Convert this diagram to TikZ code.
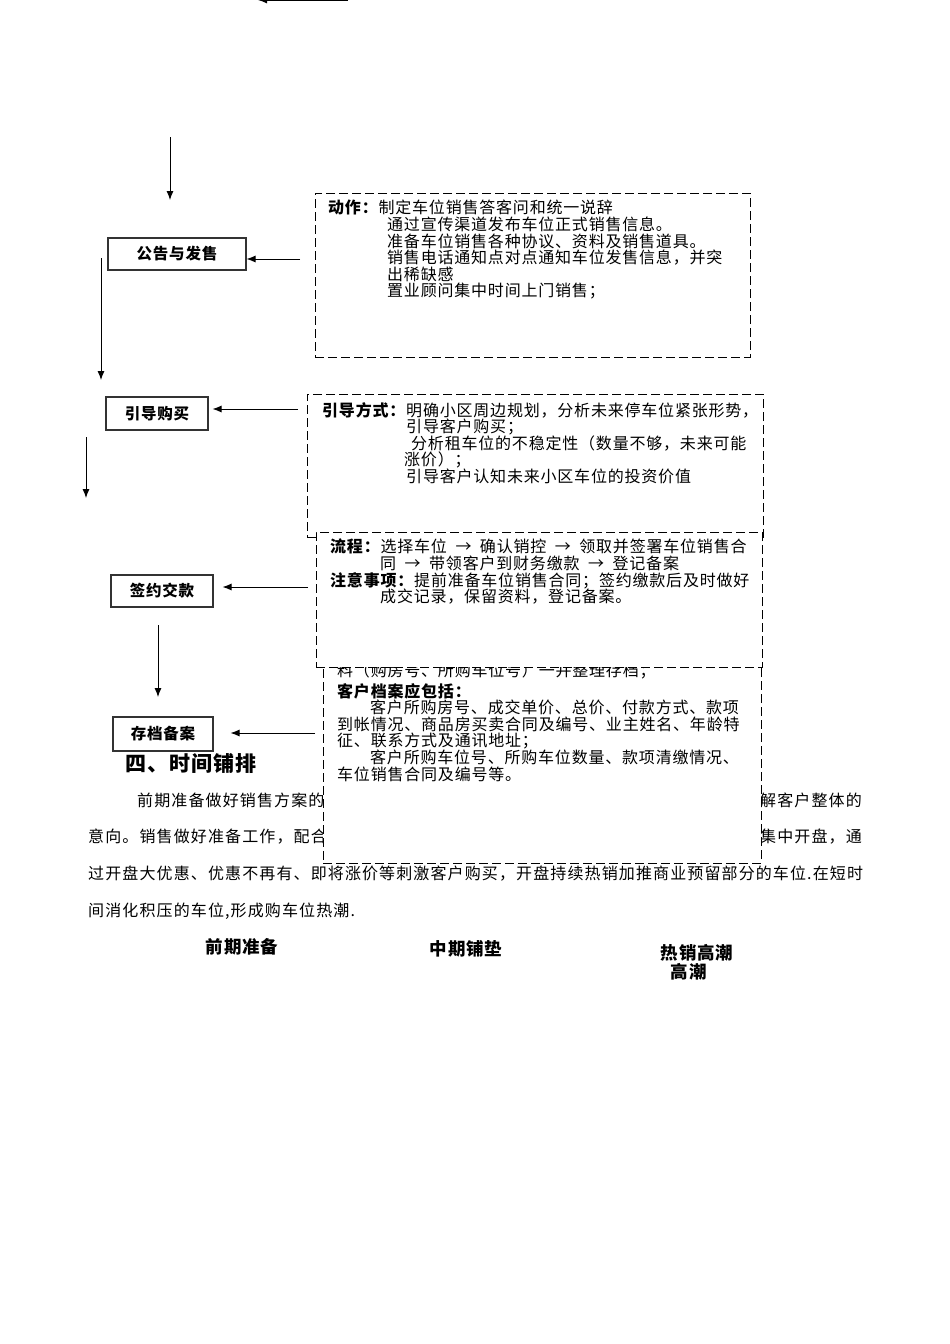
\documentclass[tikz,border=0pt]{standalone}
\usepackage{fontspec}
\usetikzlibrary{arrows.meta}
\newfontfamily\cjk[LetterSpace=5]{Noto Sans CJK SC}
\newfontfamily\cjkbody[LetterSpace=7]{Noto Sans CJK SC}
\newcommand{\flowarrow}{\hspace{8.5pt}→\hspace{8.5pt}}

\begin{document}
\begin{tikzpicture}[x=1pt, y=-1pt,
    stepbox/.style={draw=black!80, line width=1.1pt, inner sep=0, font=\cjk\bfseries\fontsize{15.5}{18}\selectfont},
    notebox/.style={draw, dash pattern=on 9pt off 4pt, line width=1pt, fill=white, inner sep=0},
    notetext/.style={anchor=north west, inner sep=0, align=left, font=\cjk\fontsize{16}{16.6}\selectfont},
    bodytext/.style={anchor=west, inner sep=0, font=\cjkbody\fontsize{16}{18}\selectfont},
    phase/.style={inner sep=0, font=\cjk\bfseries\fontsize{17.5}{19}\selectfont},
    arr/.style={-{Latex[length=9pt,width=7pt]}, line width=0.9pt}]
  \useasboundingbox (0,0) rectangle (950,1344);

  \coordinate (top1) at (348,0);
  \coordinate (top2) at (258,0);
  \draw[arr] (top1) -- (top2);

  \node[stepbox, minimum width=138, minimum height=32] (gongao) at (177,254) {公告与发售};
  \node[stepbox, minimum width=102, minimum height=33] (yindao) at (157,413.5) {引导购买};
  \node[stepbox, minimum width=102, minimum height=32] (qianyue) at (162,591) {签约交款};
  \node[stepbox, minimum width=100, minimum height=34] (cundang) at (163,734) {存档备案};

  \coordinate (d1a) at (170,137);
  \coordinate (d1b) at (170,200);
  \coordinate (d2a) at (101,258);
  \coordinate (d2b) at (101,380);
  \coordinate (d3a) at (86,437);
  \coordinate (d3b) at (86,498);
  \coordinate (d4a) at (158,625);
  \coordinate (d4b) at (158,697);
  \draw[arr] (d1a) -- (d1b);
  \draw[arr] (d2a) -- (d2b);
  \draw[arr] (d3a) -- (d3b);
  \draw[arr] (d4a) -- (d4b);

  \coordinate (in1) at (300,259);
  \coordinate (in2) at (298,409);
  \coordinate (in3) at (308,587);
  \coordinate (in4) at (315,733);
  \draw[arr] (in1) -- (in1 -| gongao.east);
  \draw[arr, shorten >=4pt] (in2) -- (in2 -| yindao.east);
  \draw[arr, shorten >=9pt] (in3) -- (in3 -| qianyue.east);
  \draw[arr, shorten >=17pt] (in4) -- (in4 -| cundang.east);

  \node[anchor=west, inner sep=0, font=\cjk\bfseries\fontsize{21}{24}\selectfont] (heading) at (125,763) {四、时间铺排};
  \node[bodytext] (p1a) at (137,800) {前期准备做好销售方案的};
  \node[bodytext, anchor=east] (p1b) at (862,800) {解客户整体的};
  \node[bodytext] (p2a) at (88,837) {意向。销售做好准备工作，配合};
  \node[bodytext, anchor=east] (p2b) at (862,837) {集中开盘，通};
  \node[bodytext] (p3) at (88,874) {过开盘大优惠、优惠不再有、即将涨价等刺激客户购买，开盘持续热销加推商业预留部分的车位.在短时};
  \node[bodytext] (p4) at (88,911) {间消化积压的车位,形成购车位热潮.};

  \node[phase] (early) at (242,947) {前期准备};
  \node[phase] (middle) at (466,949) {中期铺垫};
  \node[phase, align=left] (hot) at (697,962) {热销高潮\\\hspace{10pt}高潮};

  \node[notebox, minimum width=435, minimum height=164] (action) at (532.5,275) {};
  \node[notetext] (actiontext) at (328,200) {\textbf{动作：}制定车位销售答客问和统一说辞\\
    \hspace{59pt}通过宣传渠道发布车位正式销售信息。\\
    \hspace{59pt}准备车位销售各种协议、资料及销售道具。\\
    \hspace{59pt}销售电话通知点对点通知车位发售信息，并突\\
    \hspace{59pt}出稀缺感\\
    \hspace{59pt}置业顾问集中时间上门销售；};

  \node[notebox, minimum width=456, minimum height=143] (guide) at (535,465.5) {};
  \node[notetext] (guidetext) at (322,402) {\textbf{引导方式：}明确小区周边规划，分析未来停车位紧张形势，\\
    \hspace{84pt}引导客户购买；\\
    \hspace{89pt}分析租车位的不稳定性（数量不够，未来可能\\
    \hspace{82pt}涨价）；\\
    \hspace{84pt}引导客户认知未来小区车位的投资价值};

  \node[notebox, minimum width=438, minimum height=218] (archive) at (542,754) {};
  \node[notetext] (archivetext) at (337,663) {料（购房号、所购车位号）一并整理存档；\\[3.5pt]
    \textbf{客户档案应包括：}\\
    \hspace{33pt}客户所购房号、成交单价、总价、付款方式、款项\\
    到帐情况、商品房买卖合同及编号、业主姓名、年龄特\\
    征、联系方式及通讯地址；\\
    \hspace{33pt}客户所购车位号、所购车位数量、款项清缴情况、\\
    车位销售合同及编号等。};

  \node[notebox, minimum width=446, minimum height=135] (sign) at (539,599.5) {};
  \node[notetext] (signtext) at (330,539) {\textbf{流程：}选择车位\flowarrow 确认销控\flowarrow 领取并签署车位销售合\\
    \hspace{50pt}同\flowarrow 带领客户到财务缴款\flowarrow 登记备案\\
    \textbf{注意事项：}提前准备车位销售合同；签约缴款后及时做好\\
    \hspace{50pt}成交记录，保留资料，登记备案。};
\end{tikzpicture}
\end{document}
